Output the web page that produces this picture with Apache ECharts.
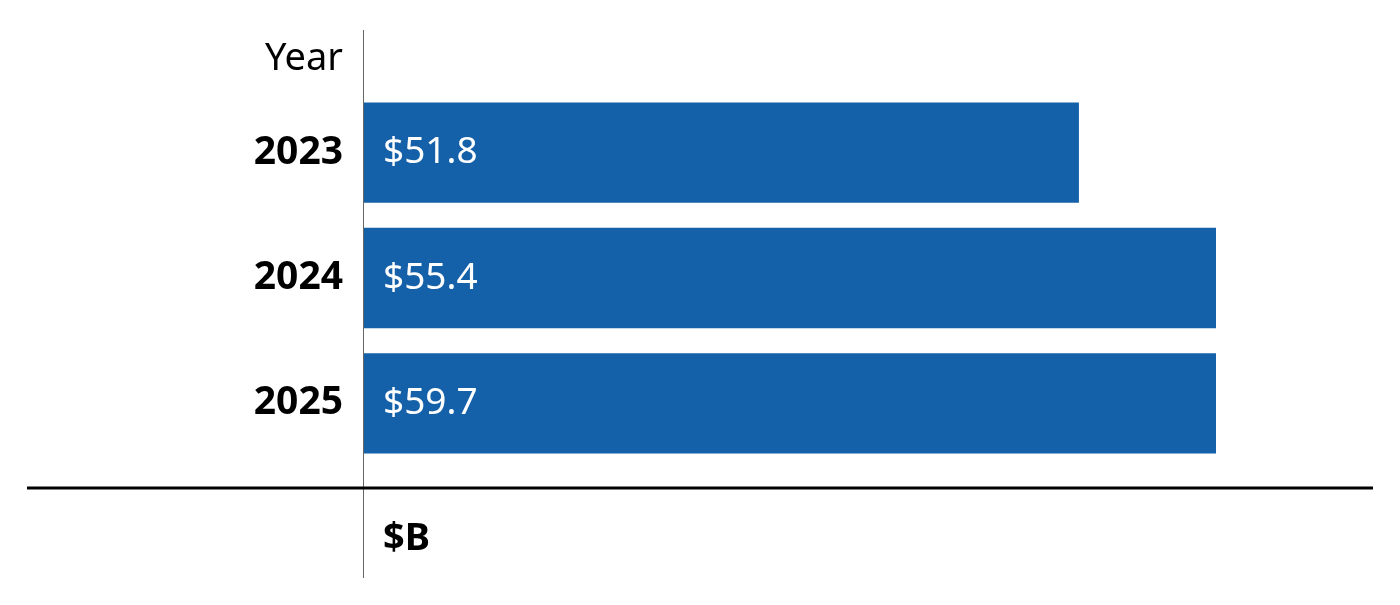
<!DOCTYPE html>
<html>
<head>
<meta charset="utf-8">
<script src="https://cdn.jsdelivr.net/npm/echarts@6/dist/echarts.min.js"></script>
<style>
  html, body { margin: 0; padding: 0; background: #fff; }
  #main { width: 1400px; height: 605px; }
</style>
</head>
<body>
<div id="main"></div>
<script>
// data
var years = ['2023', '2024', '2025'];
var spending = [51.8, 55.4, 59.7];
var unitLabel = '$B';
var headerLabel = 'Year';

var FONT = '"Noto Sans", "Open Sans", sans-serif';
var BLUE = '#1460a9';

var chart = echarts.init(document.getElementById('main'), null, { renderer: 'canvas' });

var option = {
  animation: false,
  backgroundColor: '#fff',
  textStyle: { fontFamily: FONT },
  grid: { left: 363, right: 184, top: 90, bottom: 139, containLabel: false },
  xAxis: {
    type: 'value',
    min: 33,
    max: 55.4,
    show: false
  },
  yAxis: {
    type: 'category',
    data: years,
    inverse: true,
    name: headerLabel,
    nameLocation: 'start',
    nameGap: 12,
    nameTextStyle: { fontSize: 38, color: '#000', align: 'right', padding: [0, 20, 0, 0], fontFamily: FONT },
    axisLine: { show: false },
    axisTick: { show: false },
    axisLabel: { fontSize: 39, fontWeight: 'bold', color: '#000', margin: 20, padding: [10, 0, 0, 0], fontFamily: FONT }
  },
  series: [{
    type: 'bar',
    data: spending,
    clip: true,
    barCategoryGap: '20%',
    itemStyle: { color: BLUE },
    label: {
      show: true,
      position: 'insideLeft',
      distance: 20,
      color: '#fff',
      fontSize: 37,
      padding: [10, 0, 0, 0],
      fontFamily: FONT,
      formatter: function (p) { return '$' + p.value.toFixed(1); }
    }
  }],
  graphic: [
    { type: 'line', shape: { x1: 363.5, y1: 30, x2: 363.5, y2: 578 }, style: { stroke: '#666', lineWidth: 1 }, z: 100 },
    { type: 'line', shape: { x1: 27, y1: 488, x2: 1373, y2: 488 }, style: { stroke: '#000', lineWidth: 3 }, z: 100 },
    { type: 'text', left: 383, top: 520, style: { text: unitLabel, fontSize: 38, fontWeight: 'bold', fill: '#000', fontFamily: FONT } }
  ]
};

chart.setOption(option);
</script>
</body>
</html>
